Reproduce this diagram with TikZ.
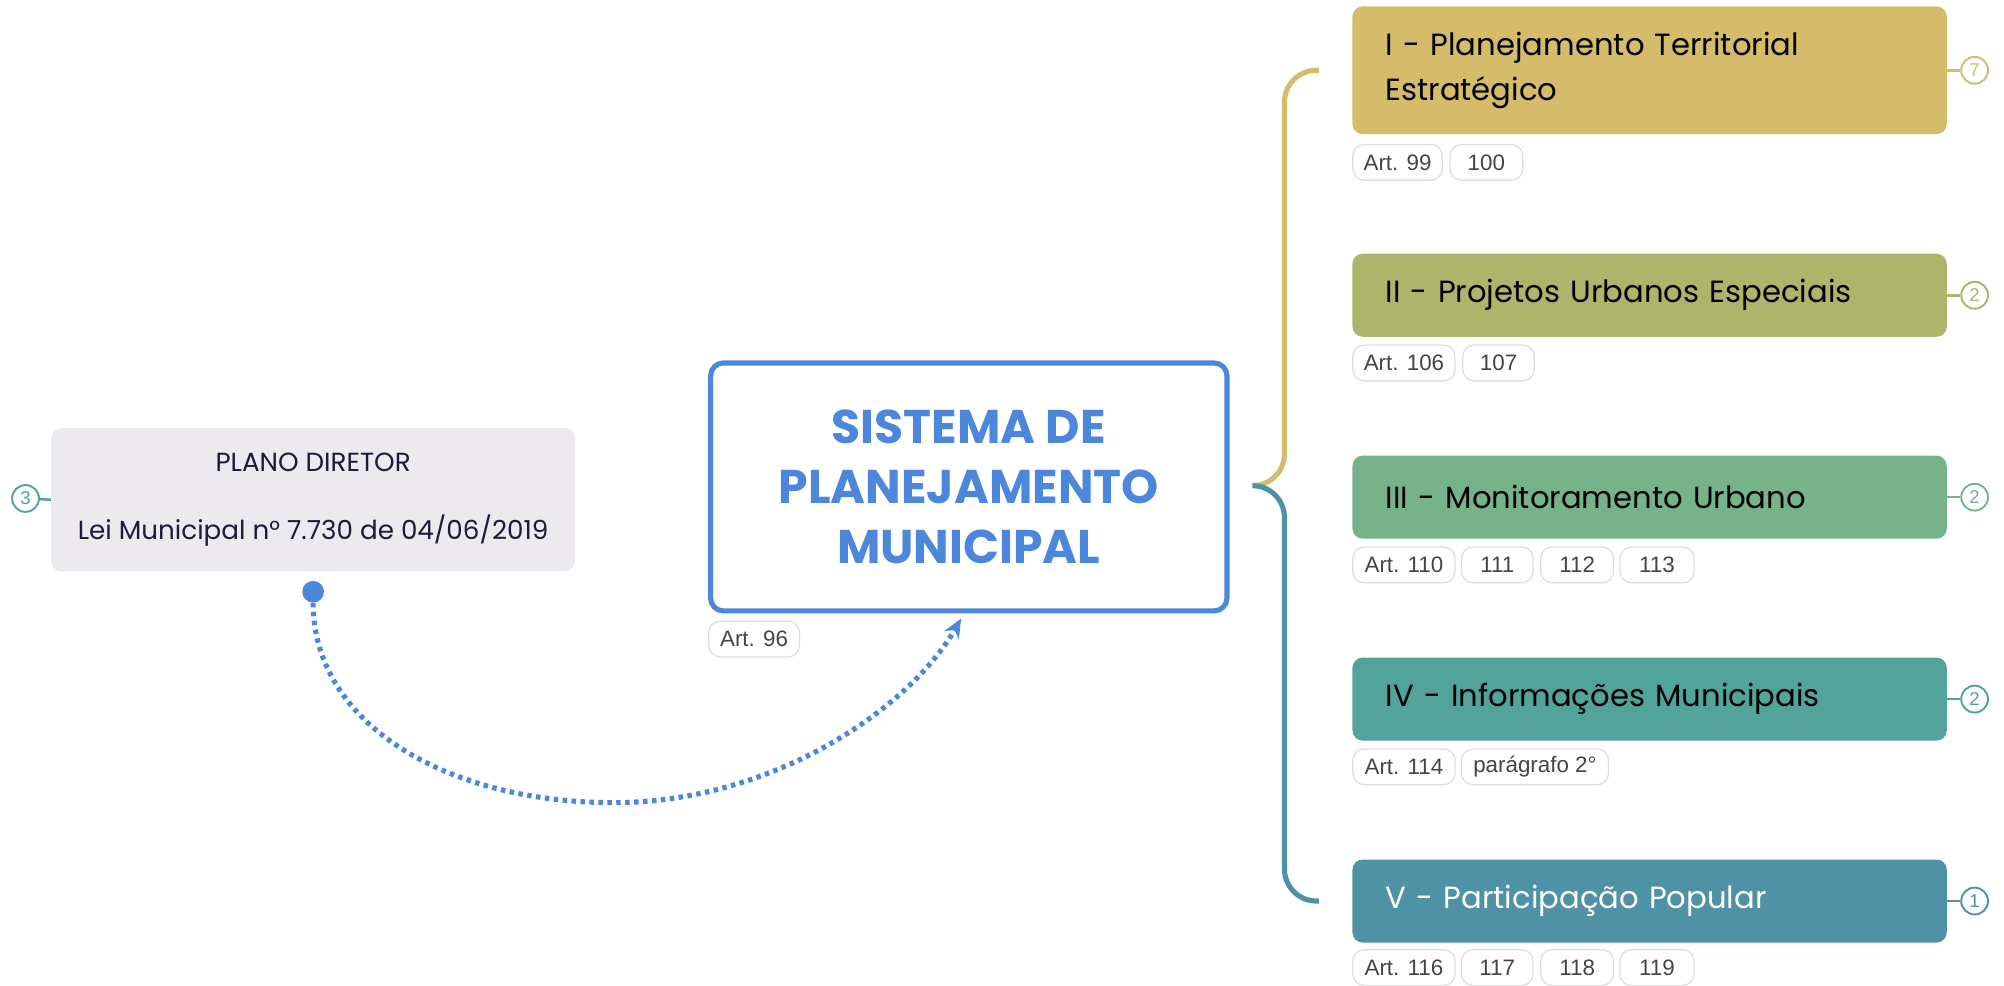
\documentclass[tikz,border=0pt]{standalone}
\usepackage{fontspec}
\setmainfont{Poppins}
\newfontfamily\tagfont{Liberation Sans}
\usetikzlibrary{arrows.meta}
\definecolor{cgold}{RGB}{212,188,106}
\definecolor{colive}{RGB}{173,181,107}
\definecolor{cgreen}{RGB}{118,178,138}
\definecolor{cteal}{RGB}{82,163,153}
\definecolor{cblueteal}{RGB}{80,146,165}
\definecolor{cblue}{RGB}{76,135,219}
\definecolor{cplano}{RGB}{236,234,238}
\definecolor{cnavy}{RGB}{27,27,58}
\definecolor{ctagb}{RGB}{222,222,222}
\definecolor{ctagt}{RGB}{68,68,68}
\tikzset{
  branch/.style={rectangle, rounded corners=8, minimum height=65, text width=413,
    inner xsep=26, inner ysep=0, align=left, anchor=west, text=black,
    font=\fontsize{24}{35}\selectfont},
  tagbox/.style={draw=ctagb, line width=1, rounded corners=9, minimum height=28,
    inner xsep=0, inner ysep=0, anchor=west, text=ctagt,
    font=\tagfont\fontsize{17.5}{18}\selectfont},
  countc/.style={circle, draw, fill=white, line width=1.5, minimum size=21, inner sep=0,
    font=\tagfont\fontsize{14.5}{14.5}\selectfont},
  countline/.style={line width=2},
  bracel/.style={line width=4, rounded corners=25},
}
\begin{document}
\begin{tikzpicture}[x=1pt,y=-1pt]
\useasboundingbox (0,0) rectangle (1568,771);

% Plano Diretor
\node[rectangle, rounded corners=8, fill=cplano, minimum width=410, minimum height=112,
  text=cnavy, align=center, font=\fontsize{20.5}{53}\selectfont] (plano) at (245,391)
  {\raisebox{-4pt}{PLANO DIRETOR}\\\raisebox{-4pt}{Lei Municipal n° 7.730 de 04/06/2019}};
\node[countc, draw=cteal, text=cteal] (c3) at (20,390) {3};
\draw[countline, cteal] (c3) -- (plano.west);

% Central
\node[rectangle, rounded corners=10, draw=cblue, line width=4, fill=white,
  minimum width=404, minimum height=194, text=cblue, align=center,
  font=\bfseries\fontsize{37}{47}\selectfont] (central) at (758,381)
  {SISTEMA DE\\PLANEJAMENTO\\MUNICIPAL};
\node[tagbox, minimum width=71] (a96) at (554,500) {Art. 96};

% Dotted connector
\node[circle, fill=cblue, minimum size=17, inner sep=0] (dot) at (245,463) {};
\coordinate (low) at (480,628);
\coordinate (tip) at (752,484);
\draw[cblue, line width=4, dash pattern=on 3.5 off 3.5, -{Stealth[length=15,width=13]}]
  (dot.south) .. controls +(0,95) and +(-130,0) .. (low)
  .. controls +(125,0) and +(-40,70) .. (tip);

% Braces
\coordinate (hub) at (980,380);
\coordinate (gI) at (1032,55);
\coordinate (tV) at (1032,705);
\draw[bracel, cgold] (hub) -- (1005,380) |- (gI);
\draw[bracel, cblueteal] (hub) -- (1005,380) |- (tV);

% Branch I
\node[branch, fill=cgold, minimum height=100] (b1) at (1058,55)
  {\raisebox{-3pt}{I - Planejamento Territorial}\\\raisebox{-3pt}{Estratégico}};
\node[countc, draw=cgold, text=cgold] (n1) at (1545,55) {7};
\draw[countline, cgold] (b1.east) -- (n1);
\node[tagbox, minimum width=70] (t11) at (1058,127) {Art. 99};
\node[tagbox, minimum width=57] (t12) at (1134,127) {100};

% Branch II
\node[branch, fill=colive] (b2) at (1058,231) {II - Projetos Urbanos Especiais};
\node[countc, draw=colive, text=colive] (n2) at (1545,231) {2};
\draw[countline, colive] (b2.east) -- (n2);
\node[tagbox, minimum width=80] (t21) at (1058,284) {Art. 106};
\node[tagbox, minimum width=56] (t22) at (1144,284) {107};

% Branch III
\node[branch, fill=cgreen] (b3) at (1058,389) {III - Monitoramento Urbano};
\node[countc, draw=cgreen, text=cgreen] (n3) at (1545,389) {2};
\draw[countline, cgreen] (b3.east) -- (n3);
\node[tagbox, minimum width=80] (t31) at (1058,442) {Art. 110};
\node[tagbox, minimum width=56] (t32) at (1143,442) {111};
\node[tagbox, minimum width=57] (t33) at (1205,442) {112};
\node[tagbox, minimum width=58] (t34) at (1267,442) {113};

% Branch IV
\node[branch, fill=cteal] (b4) at (1058,547) {IV - Informações Municipais};
\node[countc, draw=cteal, text=cteal] (n4) at (1545,547) {2};
\draw[countline, cteal] (b4.east) -- (n4);
\node[tagbox, minimum width=80] (t41) at (1058,600) {Art. 114};
\node[tagbox, minimum width=115] (t42) at (1143,600) {parágrafo 2°};

% Branch V
\node[branch, fill=cblueteal, text=white] (b5) at (1058,705) {V - Participação Popular};
\node[countc, draw=cblueteal, text=cblueteal] (n5) at (1545,705) {1};
\draw[countline, cblueteal] (b5.east) -- (n5);
\node[tagbox, minimum width=80] (t51) at (1058,757) {Art. 116};
\node[tagbox, minimum width=56] (t52) at (1143,757) {117};
\node[tagbox, minimum width=57] (t53) at (1205,757) {118};
\node[tagbox, minimum width=58] (t54) at (1267,757) {119};
\end{tikzpicture}
\end{document}
